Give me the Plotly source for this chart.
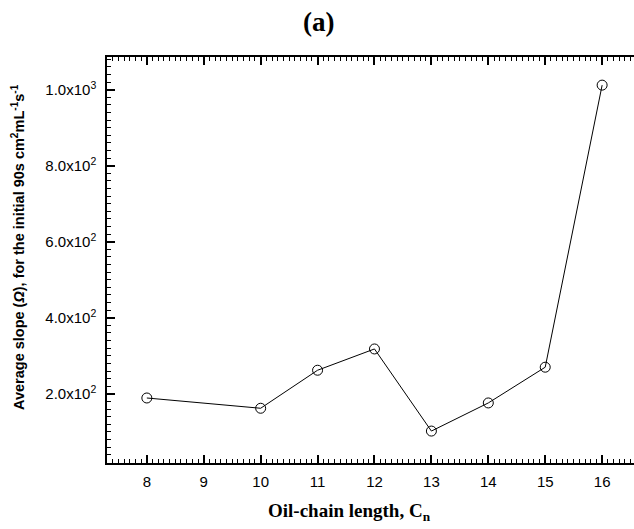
import plotly.graph_objects as go

chain_length = [8, 10, 11, 12, 13, 14, 15, 16]
avg_slope = [189, 162, 262, 318, 102, 176, 270, 1012]

x_ticks = [8, 9, 10, 11, 12, 13, 14, 15, 16]
y_ticks = [200, 400, 600, 800, 1000]
y_ticktext = ["2.0x10<sup>2</sup>", "4.0x10<sup>2</sup>", "6.0x10<sup>2</sup>",
              "8.0x10<sup>2</sup>", "1.0x10<sup>3</sup>"]

L, R, T, B = 107, 634, 57, 463

fig = go.Figure()
fig.add_trace(go.Scatter(
    x=chain_length, y=avg_slope, mode="lines+markers",
    line=dict(color="black", width=1),
    marker=dict(symbol="circle-open", size=10, color="black", line=dict(width=1)),
    showlegend=False,
))

axis_common = dict(
    ticks="inside", showline=True, linecolor="black", linewidth=1.5,
    showgrid=False, zeroline=False, tickcolor="black",
    ticklen=8, tickwidth=1.5,
    tickfont=dict(family="Liberation Sans, Arial", size=15, color="black"),
)

fig.update_xaxes(range=[7.30, 16.56], tickvals=x_ticks, mirror="ticks", ticklabelstandoff=4,
                 **axis_common,
                 minor=dict(dtick=0.1, ticks="inside", ticklen=4, tickcolor="black", tickwidth=1))
fig.update_yaxes(range=[18, 1086], tickvals=y_ticks, ticktext=y_ticktext, mirror=False,
                 ticklabelstandoff=6, **axis_common,
                 minor=dict(dtick=20, ticks="inside", ticklen=4, tickcolor="black", tickwidth=1))


def px(xp):
    return (xp - L) / (R - L)


def py(yp):
    return (B - yp) / (B - T)


fig.update_layout(
    width=634, height=529,
    margin=dict(l=L, r=634 - R, t=T, b=529 - B),
    paper_bgcolor="white", plot_bgcolor="white",
    annotations=[
        dict(text="<b>(a)</b>", x=px(318), y=py(22), xref="paper", yref="paper", showarrow=False,
             xanchor="center", yanchor="middle",
             font=dict(family="Liberation Serif, Times New Roman", size=27, color="black")),
        dict(text="<b>Oil-chain length, C<sub>n</sub></b>", x=px(349), y=py(512),
             xref="paper", yref="paper", xanchor="center", yanchor="middle",
             showarrow=False, font=dict(family="Liberation Serif, Times New Roman", size=19, color="black")),
        dict(text="<b>Average slope (<i>Ω</i>), for the initial 90s cm<sup>2</sup>mL<sup>-1</sup>s<sup>-1</sup></b>",
             x=px(18), y=py(247), xref="paper", yref="paper", textangle=-90,
             xanchor="center", yanchor="middle",
             showarrow=False, font=dict(family="Liberation Sans, Arial", size=14.5, color="black")),
    ],
)

fig.write_html("out.html")
